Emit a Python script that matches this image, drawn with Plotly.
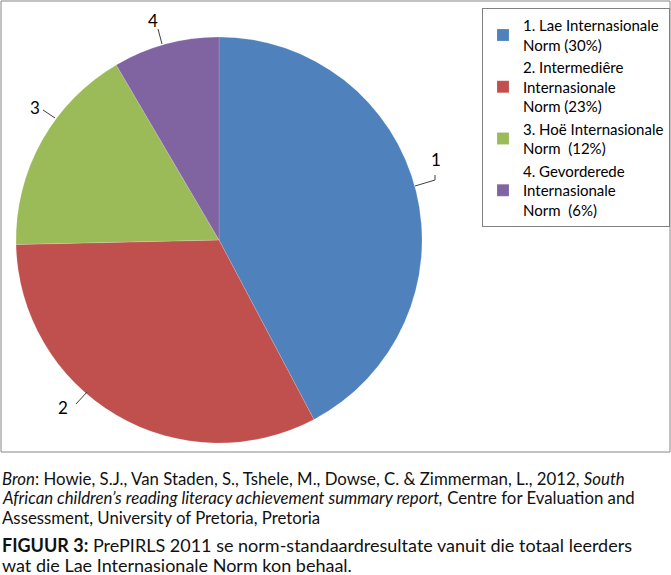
import plotly.graph_objects as go

W, H = 671, 575

labels = ["1. Lae Internasionale<br>Norm (30%)",
          "2. Intermediêre<br>Internasionale<br>Norm (23%)",
          "3. Hoë Internasionale<br>Norm  (12%)",
          "4. Gevorderede<br>Internasionale<br>Norm  (6%)"]
values = [30, 23, 12, 6]
slice_names = ["1", "2", "3", "4"]
colors = ["#4F81BD", "#C0504D", "#9BBB59", "#8064A2"]

bron_lines = [
    "<i>Bron</i>: Howie, S.J., Van Staden, S., Tshele, M., Dowse, C. & Zimmerman, L., 2012, <i>South</i>",
    "<i>African children’s reading literacy achievement summary report,</i> Centre for Evaluation and",
    "Assessment, University of Pretoria, Pretoria",
]
caption_lines = [
    "<b>FIGUUR 3:</b> PrePIRLS 2011 se norm-standaardresultate vanuit die totaal leerders",
    "wat die Lae Internasionale Norm kon behaal.",
]

# label spots (pixels) and leader lines next to the pie
label_pos = [(436, 160), (63, 408), (35, 107), (153, 20)]
leaders = [[(415, 186), (435, 180), (435, 175)],
           [(87, 392), (76, 404)],
           [(55, 118), (43, 110)],
           [(162, 44), (158, 29)]]


def px(x, y):
    return x / W, 1 - y / H


fig = go.Figure()
fig.add_trace(go.Pie(
    labels=labels, values=values, sort=False, direction="clockwise",
    rotation=0, textinfo="none", hoverinfo="label+percent",
    marker=dict(colors=colors, line=dict(color="rgba(255,255,255,0.3)", width=0.5)),
    domain=dict(x=[16 / W, 422 / W], y=[1 - 443 / H, 1 - 37 / H]),
))

shapes = [dict(type="rect", xref="paper", yref="paper",
               x0=1 / W, x1=670 / W, y0=1 - 452 / H, y1=1 - 1 / H,
               line=dict(color="#868686", width=1))]
for pts in leaders:
    path = "M " + " L ".join(f"{px(a, b)[0]},{px(a, b)[1]}" for a, b in pts)
    shapes.append(dict(type="path", xref="paper", yref="paper", path=path,
                       line=dict(color="#404040", width=1)))

annotations = []
for name, (lx, ly) in zip(slice_names, label_pos):
    ax, ay = px(lx, ly)
    annotations.append(dict(text=name, x=ax, y=ay, xref="paper", yref="paper",
                            xanchor="center", yanchor="middle",
                            showarrow=False, font=dict(size=17, color="#000")))

for i, line in enumerate(bron_lines):
    annotations.append(dict(text=line, x=0, y=1 - (478 + 19.5 * i) / H,
                            xref="paper", yref="paper", xanchor="left", yanchor="middle",
                            showarrow=False, align="left",
                            font=dict(size=16.8, color="#111")))
for i, line in enumerate(caption_lines):
    annotations.append(dict(text=line, x=0, y=1 - (545 + 20 * i) / H,
                            xref="paper", yref="paper", xanchor="left", yanchor="middle",
                            showarrow=False, align="left",
                            font=dict(size=18, color="#111")))

fig.update_layout(
    width=W, height=H, margin=dict(l=0, r=0, t=0, b=0),
    paper_bgcolor="white", plot_bgcolor="white",
    font=dict(family="Lato, Open Sans, sans-serif", color="#000"),
    shapes=shapes, annotations=annotations,
    legend=dict(x=482 / W, y=1 - 8 / H, xanchor="left", yanchor="top",
                bordercolor="#808080", borderwidth=1, bgcolor="white",
                font=dict(size=15, color="#000"), itemclick=False),
)

fig.write_html("out.html", config={"displayModeBar": False},
               post_script="document.body.style.margin='0';")
